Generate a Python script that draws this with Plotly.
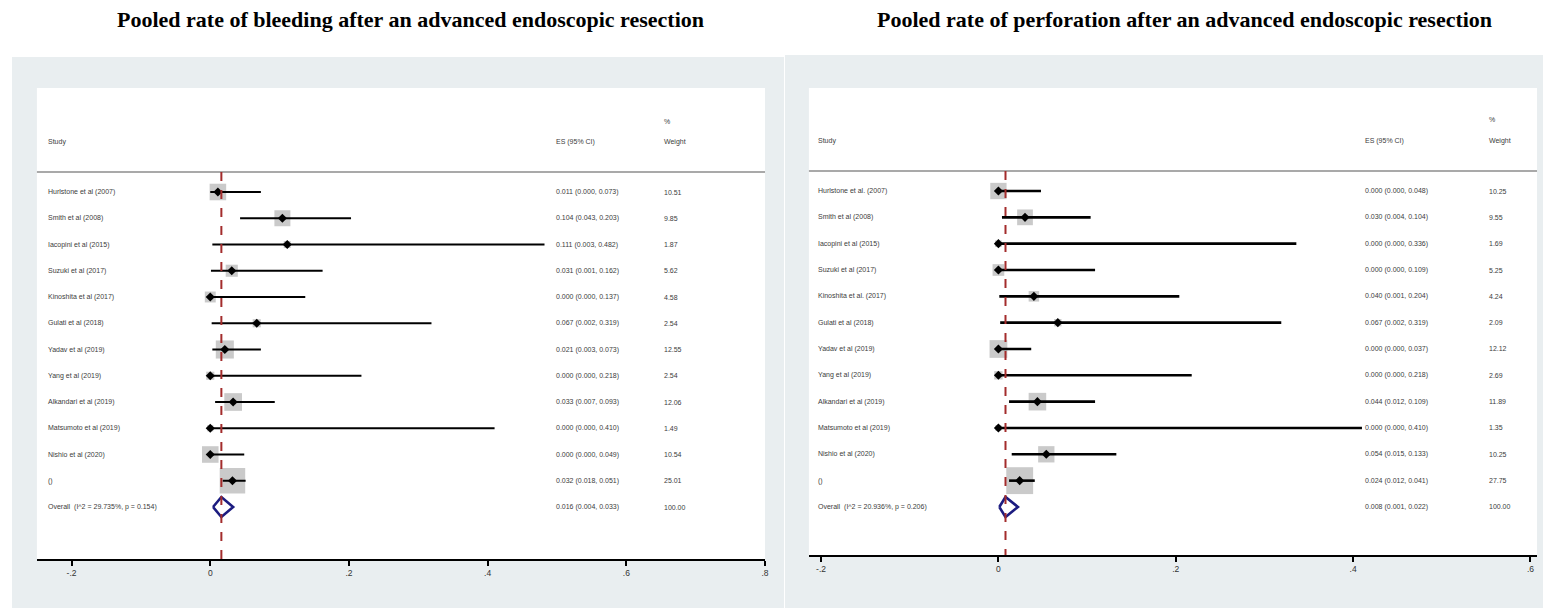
import plotly.graph_objects as go

W, H = 1547, 608

# ---------------- data ----------------
titles = ["Pooled rate of bleeding after an advanced endoscopic resection",
          "Pooled rate of perforation after an advanced endoscopic resection"]

bleed_labels = ["Hurlstone et al (2007)", "Smith et al (2008)", "Iacopini et al (2015)",
                "Suzuki et al (2017)", "Kinoshita et al (2017)", "Gulati et al (2018)",
                "Yadav et al (2019)", "Yang et al (2019)", "Alkandari et al (2019)",
                "Matsumoto et al (2019)", "Nishio et al (2020)", "()",
                "Overall&nbsp; (I^2 = 29.735%, p = 0.154)"]
bleed_es = [0.011, 0.104, 0.111, 0.031, 0.000, 0.067, 0.021, 0.000, 0.033, 0.000, 0.000, 0.032, 0.016]
bleed_lo = [0.000, 0.043, 0.003, 0.001, 0.000, 0.002, 0.003, 0.000, 0.007, 0.000, 0.000, 0.018, 0.004]
bleed_hi = [0.073, 0.203, 0.482, 0.162, 0.137, 0.319, 0.073, 0.218, 0.093, 0.410, 0.049, 0.051, 0.033]
bleed_w = [10.51, 9.85, 1.87, 5.62, 4.58, 2.54, 12.55, 2.54, 12.06, 1.49, 10.54, 25.01, 100.00]

perf_labels = ["Hurlstone et al. (2007)", "Smith et al (2008)", "Iacopini et al (2015)",
               "Suzuki et al (2017)", "Kinoshita et al. (2017)", "Gulati et al (2018)",
               "Yadav et al (2019)", "Yang et al (2019)", "Alkandari et al (2019)",
               "Matsumoto et al (2019)", "Nishio et al (2020)", "()",
               "Overall&nbsp; (I^2 = 20.936%, p = 0.206)"]
perf_es = [0.000, 0.030, 0.000, 0.000, 0.040, 0.067, 0.000, 0.000, 0.044, 0.000, 0.054, 0.024, 0.008]
perf_lo = [0.000, 0.004, 0.000, 0.000, 0.001, 0.002, 0.000, 0.000, 0.012, 0.000, 0.015, 0.012, 0.001]
perf_hi = [0.048, 0.104, 0.336, 0.109, 0.204, 0.319, 0.037, 0.218, 0.109, 0.410, 0.133, 0.041, 0.022]
perf_w = [10.25, 9.55, 1.69, 5.25, 4.24, 2.09, 12.12, 2.69, 11.89, 1.35, 10.25, 27.75, 100.00]

tick_vals = [-0.2, 0, 0.2, 0.4, 0.6, 0.8]
tick_text = ["-.2", "0", ".2", ".4", ".6", ".8"]
tick_vals2 = [-0.2, 0, 0.2, 0.4, 0.6]
tick_text2 = ["-.2", "0", ".2", ".4", ".6"]

# ---------------- layout helpers ----------------
def px(x):
    return x / W

def py(y):
    return 1 - y / H

GRAY_BG = "#e9eef0"
TXT = "#3c3c3c"
BOX = "#b3b3b3"
DASH = "#a32c2c"
NAVY = "#1c1c80"
FONT = "Liberation Sans, Arial, sans-serif"

panels = [
    dict(labels=bleed_labels, es=bleed_es, lo=bleed_lo, hi=bleed_hi, w=bleed_w,
         xdom=(37, 767), ydom=(88, 559), xr=(-0.25, 0.8), yr=(13.981, -3.962),
         gray=(12, 57, 786, 608), lab_x=46, es_x=555, w_x=664, title_x=412,
         tv=tick_vals, tt=tick_text, lw=2.0, xa="x", ya="y"),
    dict(labels=perf_labels, es=perf_es, lo=perf_lo, hi=perf_hi, w=perf_w,
         xdom=(811, 1541), ydom=(88, 555), xr=((811 - 1001) / 889, (1541 - 1001) / 889),
         yr=(13.824, -3.912),
         gray=(787, 55, 1547, 608), lab_x=818, es_x=1367, w_x=1491, title_x=1188,
         tv=tick_vals2, tt=tick_text2, lw=2.6, xa="x2", ya="y2"),
]

fig = go.Figure()
shapes = []
annotations = []

HEADER_ROW = -1.9
PCT_ROW = -2.7
SEP_ROW = -0.76
BOX_SCALE = 5.1
DIAM_H = 0.38

for k, p in enumerate(panels):
    xa, ya = p["xa"], p["ya"]
    axis_suffix = "" if k == 0 else "2"
    n = len(p["labels"])
    rows = list(range(n))
    nstud = n - 1  # last row is overall

    # backgrounds
    gx0, gy0, gx1, gy1 = p["gray"]
    shapes.append(dict(type="rect", xref="paper", yref="paper", layer="below",
                       x0=px(gx0), x1=px(gx1), y0=py(gy1), y1=py(gy0),
                       fillcolor=GRAY_BG, line=dict(width=0)))
    shapes.append(dict(type="rect", xref="paper", yref="paper", layer="below",
                       x0=px(p["xdom"][0]), x1=px(p["xdom"][1]),
                       y0=py(p["ydom"][1]), y1=py(p["ydom"][0]),
                       fillcolor="white", line=dict(width=0)))

    # separator line under header
    shapes.append(dict(type="line", xref=f"{xa} domain", yref=ya, layer="below",
                       x0=0, x1=1, y0=SEP_ROW, y1=SEP_ROW,
                       line=dict(color="#a9a9a9", width=2)))

    # dashed line at overall estimate
    ov = p["es"][-1]
    shapes.append(dict(type="line", xref=xa, yref=ya, layer="above",
                       x0=ov, x1=ov, y0=SEP_ROW, y1=p["yr"][0],
                       line=dict(color=DASH, width=2, dash="dash")))

    # weight boxes
    fig.add_trace(go.Scatter(
        x=p["es"][:nstud], y=rows[:nstud], mode="markers", xaxis=xa, yaxis=ya,
        marker=dict(symbol="square", color=BOX,
                    size=[BOX_SCALE * (w ** 0.5) for w in p["w"][:nstud]],
                    line=dict(width=0)),
        showlegend=False, hoverinfo="skip"))

    # CI lines
    cx, cy = [], []
    for i in range(nstud):
        cx += [p["lo"][i], p["hi"][i], None]
        cy += [rows[i], rows[i], None]
    fig.add_trace(go.Scatter(x=cx, y=cy, mode="lines", xaxis=xa, yaxis=ya,
                             line=dict(color="black", width=p["lw"]),
                             showlegend=False, hoverinfo="skip"))

    # point estimates
    fig.add_trace(go.Scatter(
        x=p["es"][:nstud], y=rows[:nstud], mode="markers", xaxis=xa, yaxis=ya,
        marker=dict(symbol="diamond", color="black", size=7),
        showlegend=False, hoverinfo="skip"))

    # overall diamond
    r = rows[-1]
    fig.add_trace(go.Scatter(
        x=[p["lo"][-1], ov, p["hi"][-1], ov, p["lo"][-1]],
        y=[r, r - DIAM_H, r, r + DIAM_H, r], mode="lines", xaxis=xa, yaxis=ya,
        line=dict(color=NAVY, width=2.6), showlegend=False, hoverinfo="skip"))

    # texts
    def add_text(xpix, row, text):
        annotations.append(dict(xref="paper", yref=ya, x=px(xpix), y=row,
                                text=text, showarrow=False, xanchor="left",
                                yanchor="middle",
                                font=dict(family=FONT, size=7, color=TXT)))

    add_text(p["lab_x"], HEADER_ROW, "Study")
    add_text(p["es_x"], HEADER_ROW, "ES (95% CI)")
    add_text(p["w_x"], HEADER_ROW, "Weight")
    add_text(p["w_x"], PCT_ROW, "%")
    for i in range(n):
        add_text(p["lab_x"], rows[i], p["labels"][i])
        add_text(p["es_x"], rows[i],
                 f"{p['es'][i]:.3f} ({p['lo'][i]:.3f}, {p['hi'][i]:.3f})")
        add_text(p["w_x"], rows[i], f"{p['w'][i]:.2f}")

    # title
    annotations.append(dict(xref="paper", yref="paper", x=px(p["title_x"]), y=py(19),
                            text=f"<b>{titles[k]}</b>", showarrow=False,
                            xanchor="center", yanchor="middle",
                            font=dict(family="Liberation Serif, Times New Roman, serif",
                                      size=22, color="black")))

    # axes
    fig.update_layout(**{
        f"xaxis{axis_suffix}": dict(
            domain=[px(p["xdom"][0]), px(p["xdom"][1])], range=list(p["xr"]),
            anchor=ya, showgrid=False, zeroline=False, showline=True,
            linecolor="black", linewidth=2, ticks="outside", ticklen=5,
            tickwidth=2, tickcolor="black", tickvals=p["tv"], ticktext=p["tt"],
            tickfont=dict(family=FONT, size=8.5, color="#333333"), fixedrange=True),
        f"yaxis{axis_suffix}": dict(
            domain=[py(p["ydom"][1]), py(p["ydom"][0])], range=list(p["yr"]),
            anchor=xa, showgrid=False, zeroline=False, showline=False,
            showticklabels=False, ticks="", fixedrange=True),
    })

fig.update_layout(
    width=W, height=H, margin=dict(l=0, r=0, t=0, b=0),
    paper_bgcolor="white", plot_bgcolor="rgba(0,0,0,0)",
    shapes=shapes, annotations=annotations, showlegend=False,
)

fig.write_html("out.html", config={"displayModeBar": False, "staticPlot": True},
               post_script="document.body.style.margin='0';document.body.style.overflow='hidden';")
